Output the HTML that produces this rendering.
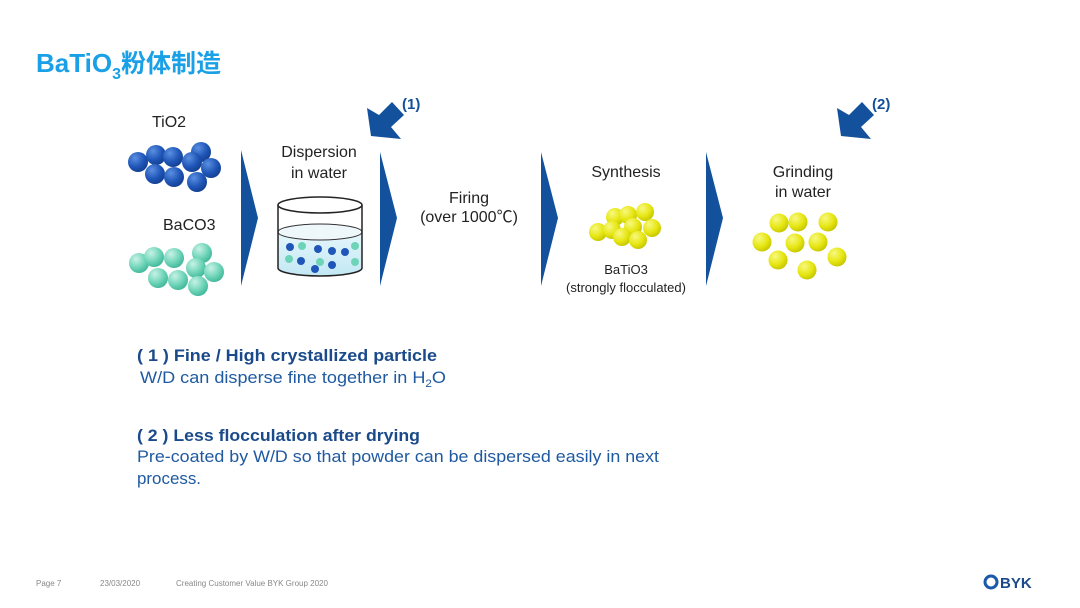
<!DOCTYPE html>
<html><head><meta charset="utf-8"><style>
body{margin:0;background:#fff;}
svg{display:block;}
text{font-family:"Liberation Sans","Noto Sans CJK SC",sans-serif;}
</style></head><body>
<svg width="1080" height="608" viewBox="0 0 1080 608" xmlns="http://www.w3.org/2000/svg">
<defs>
<radialGradient id="gb" cx="35%" cy="30%" r="75%"><stop offset="0" stop-color="#5b8fe0"/><stop offset="0.6" stop-color="#1f56b8"/><stop offset="1" stop-color="#123e8e"/></radialGradient>
<radialGradient id="gg" cx="35%" cy="30%" r="75%"><stop offset="0" stop-color="#c8f2e6"/><stop offset="0.6" stop-color="#6ed4b8"/><stop offset="1" stop-color="#3fb598"/></radialGradient>
<radialGradient id="gy" cx="35%" cy="30%" r="75%"><stop offset="0" stop-color="#f8f880"/><stop offset="0.6" stop-color="#e6e612"/><stop offset="1" stop-color="#c4c400"/></radialGradient>
<linearGradient id="wat" x1="0" y1="0" x2="0" y2="1"><stop offset="0" stop-color="#e6f6fb"/><stop offset="1" stop-color="#c2e8f4"/></linearGradient>
</defs>
<text x="36" y="72" font-size="26" font-weight="bold" fill="#1aa0e6">BaTiO<tspan font-size="16" dy="7">3</tspan><tspan dy="-7" font-family="Noto Sans CJK SC, sans-serif" font-size="25">粉体制造</tspan></text>

<g fill="#14519c">
<polygon points="241,150 258,218 241,286"/>
<polygon points="380,152 397,218 380,286"/>
<polygon points="541,152 558,218 541,286"/>
<polygon points="706,152 723,218 706,286"/>
<polygon points="367,108 379,115 392,102 404,115 391,127 401,139 371,136"/>
<polygon points="837,108 849,115 862,102 874,115 861,127 871,139 841,136"/>
</g>
<text x="402" y="109" font-size="15" font-weight="bold" fill="#14519c">(1)</text>
<text x="872" y="109" font-size="15" font-weight="bold" fill="#14519c">(2)</text>

<g font-size="16" fill="#222">
<text x="152" y="127">TiO2</text>
<text x="163" y="230">BaCO3</text>
<text x="319" y="157" text-anchor="middle">Dispersion</text>
<text x="319" y="178" text-anchor="middle">in water</text>
<text x="469" y="203" text-anchor="middle">Firing</text>
<text x="469" y="222" text-anchor="middle">(over 1000℃)</text>
<text x="626" y="177" text-anchor="middle">Synthesis</text>
<text x="803" y="177" text-anchor="middle">Grinding</text>
<text x="803" y="197" text-anchor="middle">in water</text>
</g>
<text x="626" y="274" font-size="13" text-anchor="middle" fill="#222">BaTiO3</text>
<text x="626" y="292" font-size="13" text-anchor="middle" fill="#222">(strongly flocculated)</text>

<g fill="url(#gb)">
<circle cx="138" cy="162" r="10"/><circle cx="156" cy="155" r="10"/><circle cx="173" cy="157" r="10"/><circle cx="201" cy="152" r="10"/><circle cx="192" cy="162" r="10"/><circle cx="211" cy="168" r="10"/><circle cx="155" cy="174" r="10"/><circle cx="174" cy="177" r="10"/><circle cx="197" cy="182" r="10"/>
</g>
<g fill="url(#gg)">
<circle cx="139" cy="263" r="10"/><circle cx="154" cy="257" r="10"/><circle cx="174" cy="258" r="10"/><circle cx="202" cy="253" r="10"/><circle cx="196" cy="268" r="10"/><circle cx="214" cy="272" r="10"/><circle cx="158" cy="278" r="10"/><circle cx="178" cy="280" r="10"/><circle cx="198" cy="286" r="10"/>
</g>

<path d="M278,232 L278,268 A42,8 0 0 0 362,268 L362,232 A42,8 0 0 1 278,232 Z" fill="url(#wat)"/>
<ellipse cx="320" cy="232" rx="42" ry="8" fill="#eef8fb" stroke="#333" stroke-width="1"/>
<path d="M278,205 L278,268 A42,8 0 0 0 362,268 L362,205" fill="none" stroke="#222" stroke-width="1.5"/>
<ellipse cx="320" cy="205" rx="42" ry="8" fill="#fff" stroke="#222" stroke-width="1.5"/>
<g>
<circle cx="290" cy="247" r="4" fill="#1f56b8"/><circle cx="302" cy="246" r="4" fill="#6ed4b8"/><circle cx="318" cy="249" r="4" fill="#1f56b8"/><circle cx="332" cy="251" r="4" fill="#1f56b8"/><circle cx="345" cy="252" r="4" fill="#1f56b8"/><circle cx="355" cy="246" r="4" fill="#6ed4b8"/>
<circle cx="289" cy="259" r="4" fill="#6ed4b8"/><circle cx="301" cy="261" r="4" fill="#1f56b8"/><circle cx="320" cy="262" r="4" fill="#6ed4b8"/><circle cx="332" cy="265" r="4" fill="#1f56b8"/><circle cx="315" cy="269" r="4" fill="#1f56b8"/><circle cx="355" cy="262" r="4" fill="#6ed4b8"/>
</g>

<g fill="url(#gy)">
<circle cx="615" cy="217" r="9"/><circle cx="628" cy="215" r="9"/><circle cx="645" cy="212" r="9"/><circle cx="598" cy="232" r="9"/><circle cx="612" cy="230" r="9"/><circle cx="633" cy="227" r="9"/><circle cx="652" cy="228" r="9"/><circle cx="622" cy="237" r="9"/><circle cx="638" cy="240" r="9"/>
</g>
<g fill="url(#gy)">
<circle cx="779" cy="223" r="9.5"/><circle cx="798" cy="222" r="9.5"/><circle cx="828" cy="222" r="9.5"/><circle cx="762" cy="242" r="9.5"/><circle cx="795" cy="243" r="9.5"/><circle cx="818" cy="242" r="9.5"/><circle cx="837" cy="257" r="9.5"/><circle cx="778" cy="260" r="9.5"/><circle cx="807" cy="270" r="9.5"/>
</g>

<g font-size="17">
<text x="137" y="361" font-weight="bold" fill="#1a4a8a" textLength="300" lengthAdjust="spacingAndGlyphs">( 1 ) Fine / High crystallized particle</text>
<text x="140" y="383" fill="#1f5aa0" textLength="306" lengthAdjust="spacingAndGlyphs">W/D can disperse fine together in H<tspan font-size="11" dy="4">2</tspan><tspan dy="-4">O</tspan></text>
<text x="137" y="441" font-weight="bold" fill="#1a4a8a" textLength="283" lengthAdjust="spacingAndGlyphs">( 2 ) Less flocculation after drying</text>
<text x="137" y="462" fill="#1f5aa0" textLength="522" lengthAdjust="spacingAndGlyphs">Pre-coated by W/D so that powder can be dispersed easily in next</text>
<text x="137" y="484" fill="#1f5aa0" textLength="64" lengthAdjust="spacingAndGlyphs">process.</text>
</g>

<g font-size="8" fill="#888">
<text x="36" y="586">Page 7</text>
<text x="100" y="586">23/03/2020</text>
<text x="176" y="586">Creating Customer Value BYK Group 2020</text>
</g>
<circle cx="991" cy="582" r="6" fill="none" stroke="#1a5aa8" stroke-width="3"/>
<text x="1000" y="588" font-size="15" font-weight="bold" fill="#1a4a8a">BYK</text>
</svg>
</body></html>
